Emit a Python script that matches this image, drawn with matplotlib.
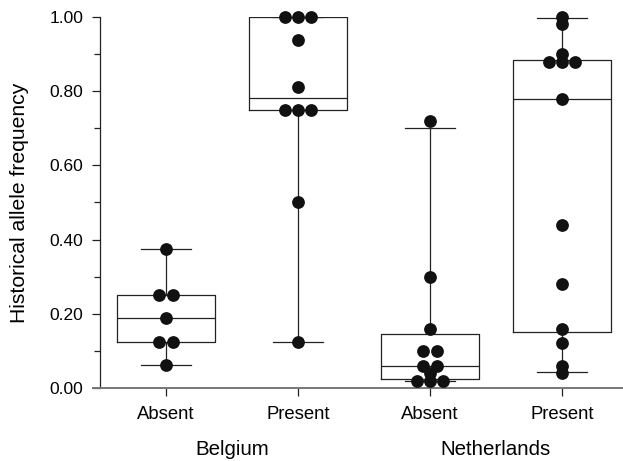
import numpy as np
import matplotlib
matplotlib.use("Agg")
import matplotlib.pyplot as plt
from matplotlib.ticker import MultipleLocator, FormatStrFormatter

plt.rcParams['font.family'] = ['Liberation Sans', 'DejaVu Sans']

# --- data ---
categories = ["Absent", "Present", "Absent", "Present"]
countries = ["Belgium", "Netherlands"]

be_absent = [0.0625, 0.125, 0.125, 0.1875, 0.25, 0.25, 0.375]
be_present = [0.125, 0.5, 0.75, 0.75, 0.75, 0.8125, 0.9375, 1.0, 1.0, 1.0]
nl_absent = [0.02, 0.02, 0.02, 0.04, 0.06, 0.06, 0.10, 0.10, 0.16, 0.30, 0.72]
nl_present = [0.04, 0.06, 0.12, 0.16, 0.28, 0.44, 0.78, 0.88, 0.88, 0.88, 0.90, 0.98, 1.0]
groups = [be_absent, be_present, nl_absent, nl_present]

# box statistics as drawn (q1, median, q3, lower whisker, upper whisker)
box_q1 = [0.125, 0.75, 0.025, 0.15]
box_med = [0.1875, 0.78125, 0.06, 0.78]
box_q3 = [0.25, 1.0, 0.145, 0.885]
whisk_lo = [0.0625, 0.125, 0.02, 0.043]
whisk_hi = [0.375, 1.0, 0.70, 0.997]

positions = np.arange(1, len(categories) + 1)

fig = plt.figure(figsize=(6.23, 4.61), dpi=100)
ax = fig.add_axes([100 / 623, 73 / 461, 522 / 623, 371 / 461])

stats = []
for i in range(len(groups)):
    stats.append({"q1": box_q1[i], "med": box_med[i], "q3": box_q3[i],
                  "whislo": whisk_lo[i], "whishi": whisk_hi[i], "fliers": []})

line_kw = dict(color="#222222", linewidth=0.9)
ax.bxp(stats, positions=positions, widths=0.745, capwidths=0.375,
       showfliers=False, boxprops=line_kw, medianprops=line_kw,
       whiskerprops=line_kw, capprops=line_kw)

# simple swarm: spread equal values side by side
step = 0.1
for pos, vals in zip(positions, groups):
    vals = np.array(vals)
    xs = np.full(len(vals), float(pos))
    for v in np.unique(vals):
        idx = np.where(np.isclose(vals, v))[0]
        n = len(idx)
        xs[idx] = pos + (np.arange(n) - (n - 1) / 2) * step
    ax.plot(xs, vals, "o", color="#111111", markersize=9.2,
            markeredgewidth=0, clip_on=False, zorder=5)

ax.set_xlim(0.5, 4.455)
ax.set_ylim(0, 1.0)

ax.spines['top'].set_visible(False)
ax.spines['right'].set_visible(False)
ax.spines['left'].set_linewidth(0.9)
ax.spines['left'].set_color("#222222")
ax.spines['bottom'].set_linewidth(1.4)
ax.spines['bottom'].set_color("#777777")
ax.spines['bottom'].set_bounds(0.5 - 7 / 132, 4.455)

ax.yaxis.set_major_locator(MultipleLocator(0.2))
ax.yaxis.set_minor_locator(MultipleLocator(0.1))
ax.yaxis.set_major_formatter(FormatStrFormatter("%.2f"))
ax.tick_params(axis='y', which='major', length=6, width=0.9, pad=6,
               labelsize=12.5, color="#222222")
ax.tick_params(axis='y', which='minor', length=4, width=0.9, color="#222222")

ax.set_xticks(positions)
ax.set_xticklabels(categories)
ax.tick_params(axis='x', length=6, width=0.9, pad=7, labelsize=13.3,
               color="#222222")

ax.set_ylabel("Historical allele frequency", fontsize=15.2, labelpad=15)

for j, name in enumerate(countries):
    xc = (positions[2 * j] + positions[2 * j + 1]) / 2
    ax.text(xc, -0.165, name, ha="center", va="center", fontsize=14.8,
            transform=ax.get_xaxis_transform())

fig.savefig("out.png", dpi=100)
